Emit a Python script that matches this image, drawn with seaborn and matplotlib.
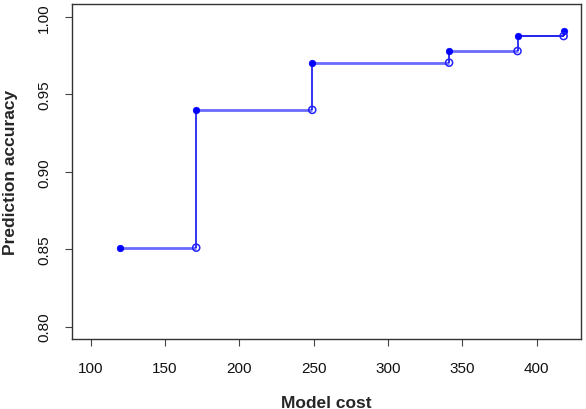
import numpy as np
import pandas as pd
import matplotlib
matplotlib.use("Agg")
import matplotlib.pyplot as plt
import seaborn as sns

# step points
cost = [120, 171, 249, 341, 387, 418]
accuracy = [0.851, 0.940, 0.9705, 0.978, 0.9877, 0.991]

x_ticks = [100, 150, 200, 250, 300, 350, 400]
y_ticks = [0.80, 0.85, 0.90, 0.95, 1.00]

sns.set_style("ticks")
plt.rcParams["font.family"] = ["Liberation Sans", "DejaVu Sans"]

df = pd.DataFrame({"cost": cost, "accuracy": accuracy})
# filled point at start of each step, open circle where the step ends
ends = pd.DataFrame({"cost": cost[1:], "accuracy": accuracy[:-1]})

fig, ax = plt.subplots(figsize=(5.86, 4.10), dpi=100)
fig.subplots_adjust(left=0.1229, right=0.991, bottom=0.1707, top=0.9878)

# horizontal parts of the steps
h_colors = ["#6a6aff"] * (len(cost) - 2) + ["#1010ee"]
h_widths = [2.0] * (len(cost) - 2) + [1.3]
ax.hlines(ends["accuracy"], df["cost"][:-1], ends["cost"],
          colors=h_colors, linewidths=h_widths, zorder=2)
# vertical jumps
ax.vlines(ends["cost"], ends["accuracy"], df["accuracy"][1:],
          colors="#1010ee", linewidths=1.2, zorder=2)

sns.scatterplot(data=df, x="cost", y="accuracy", ax=ax, color="#0000ff",
                s=22, edgecolor="#0000ff", linewidth=0.5, zorder=3)
sns.scatterplot(data=ends, x="cost", y="accuracy", ax=ax, facecolor="none",
                edgecolor="#2222ff", s=26, linewidth=1.1, zorder=3)

ax.set_xlim(87.5, 429.5)
ax.set_ylim(0.792, 1.0084)
ax.set_xticks(x_ticks)
ax.set_yticks(y_ticks)
ax.set_xticklabels([str(v) for v in x_ticks])
ax.set_yticklabels(["%.2f" % v for v in y_ticks], rotation=90, va="center")

ax.tick_params(axis="both", direction="out", length=5, width=0.8,
               labelsize=11, colors="#444444", labelcolor="#111111")
ax.tick_params(axis="x", pad=11)
ax.tick_params(axis="y", pad=10)

for side in ["top", "right", "bottom", "left"]:
    ax.spines[side].set_visible(True)
    ax.spines[side].set_linewidth(1.0)
    ax.spines[side].set_color("#333333")

ax.set_xlabel("Model cost", fontsize=12.5, fontweight="bold", labelpad=14.5)
ax.set_ylabel("Prediction accuracy", fontsize=12.5, fontweight="bold", labelpad=13.5)

fig.savefig("out.png", dpi=100)
